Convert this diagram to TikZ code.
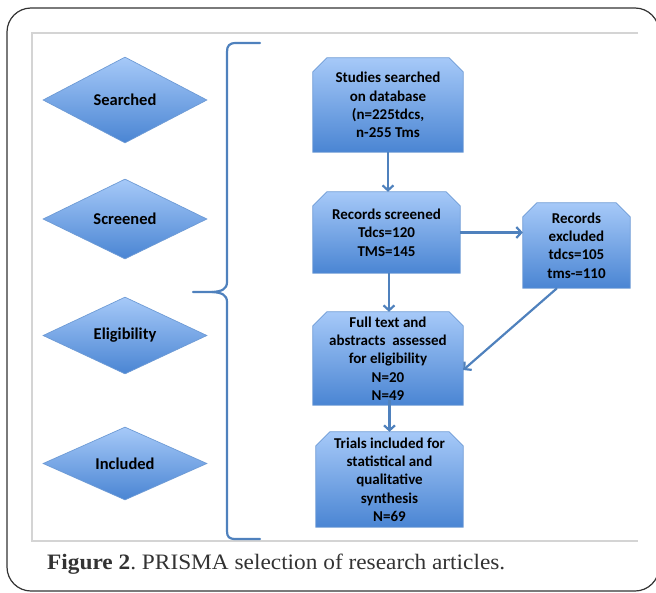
\documentclass[tikz,border=0pt]{standalone}
\usepackage{fontspec}
\setmainfont{Liberation Serif}
\newfontfamily\calib{Carlito}
\newfontfamily\capfont[FakeStretch=1.06]{Liberation Serif}
\usetikzlibrary{shapes.geometric,arrows.meta}
\pgfdeclarelayer{bg}
\pgfsetlayers{bg,main}
\definecolor{pblue}{HTML}{4F81BD}
\definecolor{btop}{HTML}{A6C9F8}
\definecolor{bbot}{HTML}{4A85D3}
\definecolor{bedge}{HTML}{6E9BD5}
\definecolor{framec}{HTML}{333333}
\definecolor{panelc}{HTML}{D4D4D4}
\newcommand\snipshape[2]{%
  \begin{pgfonlayer}{bg}
  \path[draw=bedge, line width=0.7pt, top color=btop, bottom color=bbot]
    (#1.south west) -- ([yshift=-#2pt]#1.north west) -- ([xshift=#2pt]#1.north west)
    -- ([xshift=-#2pt]#1.north east) -- ([yshift=-#2pt]#1.north east) -- (#1.south east) -- cycle;
  \end{pgfonlayer}}
\begin{document}
\frenchspacing
\begin{tikzpicture}[x=1pt,y=-1pt,
  dia/.style={diamond, draw=bedge, line width=0.7pt, top color=btop, bottom color=bbot,
    minimum width=164pt, inner sep=0pt, font=\calib\bfseries\fontsize{16.5}{18}\selectfont},
  lbl/.style={inner sep=0pt, align=center, font=\calib\bfseries\fontsize{15}{18.3}\selectfont},
  arr/.style={draw=pblue, line width=2.2pt, -{Straight Barb[length=5pt,width=11pt]}},
  brace/.style={draw=pblue, line width=2.2pt, line join=round, line cap=round},
]
\useasboundingbox (0,0) rectangle (656,592);
\clip (0,0) rectangle (656,592);
% outer frame
\draw[framec, line width=1.2pt, rounded corners=24pt] (7,8) rectangle (659,591);
% panel
\draw[panelc, line width=1.2pt] (638,33) -- (32,33) -- (32,541) -- (638,541);

% diamonds
\node[dia, minimum height=86pt] (d1) at (125,100) {Searched};
\node[dia, minimum height=80pt] (d2) at (125,219) {Screened};
\node[dia, minimum height=73pt] (d3) at (125,335.5) {Eligibility};
\node[dia, minimum height=73pt] (d4) at (125,463.5) {Included};

% brace
\draw[brace] (260,43) -- (236,43) .. controls (229,43) and (227,46) .. (227,52) -- (227,282)
  .. controls (227,289) and (222,291.5) .. (212,292) -- (193,292);
\draw[brace] (212,292) .. controls (222,292.5) and (227,295) .. (227,302) -- (227,531)
  .. controls (227,537) and (229,539) .. (236,539) -- (260,539);

% boxes
\node[lbl, minimum width=150pt, minimum height=94pt] (s1) at (388,105)
  {Studies searched\\on database\\(n=225tdcs,\\n-255 Tms};
\node[lbl, minimum width=147pt, minimum height=81pt] (s2) at (386.5,232.5)
  {Records screened\\Tdcs=120\\TMS=145};
\node[lbl, minimum width=107pt, minimum height=85pt] (s3) at (576.5,245.5)
  {Records\\excluded\\tdcs=105\\tms-=110};
\node[lbl, minimum width=150pt, minimum height=93pt] (s4) at (388,358.5)
  {Full text and\\abstracts\ \ assessed\\for eligibility\\N=20\\N=49};
\node[lbl, minimum width=147pt, minimum height=95pt] (s5) at (389.5,479.5)
  {Trials included for\\statistical and\\qualitative\\synthesis\\N=69};
\snipshape{s1}{14}
\snipshape{s2}{14}
\snipshape{s3}{14}
\snipshape{s4}{14}
\snipshape{s5}{14}

% arrows
\draw[arr] (s1.south) -- (s1.south |- s2.north);
\draw[arr] (s2.east) -- (s2.east -| s3.west);
\draw[arr] ([xshift=2.5pt]s2.south) -- ([xshift=2.5pt]s2.south |- s4.north);
\draw[arr] ([xshift=-19.5pt]s3.south) -- ([yshift=-11.5pt]s4.east);
\draw[arr] ([xshift=1.5pt,yshift=5pt]s4.south) -- ([xshift=1.5pt]s4.south |- s5.north);

% caption
\node[anchor=base west, inner sep=0pt, text=framec, font=\capfont\fontsize{22}{24}\selectfont] (cap) at (47,569)
  {\textbf{Figure 2}. PRISMA selection of research articles.};
\end{tikzpicture}
\end{document}
